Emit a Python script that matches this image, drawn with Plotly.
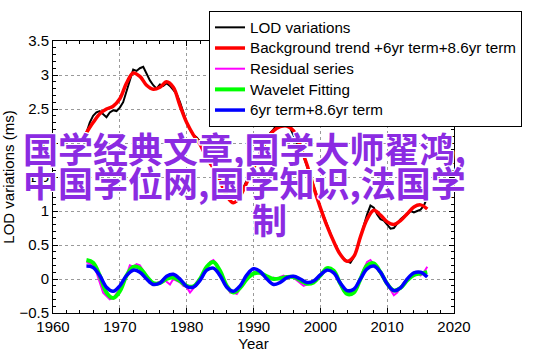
import plotly.graph_objects as go

# ---------------- data ----------------
lod_years = [1965.0 + 0.5 * i for i in range(103)]
lod_values = [
    2.15, 2.30, 2.40, 2.45, 2.47, 2.42, 2.38, 2.45, 2.48, 2.47,
    2.52, 2.60, 2.75, 2.90, 3.08, 3.06, 3.10, 3.12, 3.02, 2.92,
    2.85, 2.80, 2.86, 2.84, 2.88, 2.84, 2.78, 2.72, 2.60, 2.45,
    2.30, 2.20, 2.12, 2.08, 2.02, 1.92, 1.80, 1.72, 1.66, 1.55,
    1.45, 1.35, 1.25, 1.15, 1.12, 1.14, 1.25, 1.35, 1.45, 1.55,
    1.68, 1.75, 1.88, 1.98, 2.08, 2.15, 2.20, 2.28, 2.30, 2.27,
    2.28, 2.22, 2.10, 2.00, 1.90, 1.80, 1.66, 1.52, 1.38, 1.22,
    1.05, 0.92, 0.78, 0.66, 0.55, 0.45, 0.36, 0.30, 0.26, 0.24,
    0.32, 0.45, 0.62, 0.78, 0.95, 1.08, 1.05, 0.95, 0.88, 0.86,
    0.80, 0.74, 0.75, 0.82, 0.88, 0.92, 0.95, 1.00, 0.98, 1.00,
    1.02, 1.08, 1.20,
]

trend_years = list(range(1965, 2017))
trend_values = [
    2.15, 2.30, 2.43, 2.50, 2.54, 2.65, 2.88, 3.03, 2.98, 2.85,
    2.79, 2.82, 2.90, 2.82, 2.55, 2.30, 2.12, 1.98, 1.78, 1.63,
    1.44, 1.22, 1.12, 1.22, 1.42, 1.63, 1.85, 2.05, 2.18, 2.24,
    2.25, 2.18, 1.95, 1.68, 1.35, 1.05, 0.78, 0.55, 0.36, 0.26,
    0.33, 0.62, 0.88, 1.01, 0.94, 0.84, 0.80, 0.86, 0.96, 1.06,
    1.09, 1.03,
]

resid_years = [1965.0 + 0.5 * i for i in range(103)]
resid_values = [
    0.25, 0.22, 0.20, 0.10, -0.05, -0.20, -0.25, -0.30, -0.28, -0.22,
    -0.15, -0.05, 0.05, 0.20, 0.18, 0.22, 0.20, 0.12, 0.05, -0.02,
    -0.08, -0.06, -0.04, 0.00, -0.04, -0.08, 0.00, -0.02, -0.05, -0.10,
    -0.12, -0.20, -0.14, -0.05, 0.00, 0.06, 0.15, 0.25, 0.28, 0.22,
    0.12, 0.00, -0.10, -0.20, -0.20, -0.22, -0.14, -0.05, 0.02, 0.08,
    0.07, 0.10, 0.08, 0.05, 0.02, 0.00, 0.02, 0.00, 0.03, 0.05,
    0.02, 0.04, 0.02, -0.02, -0.05, -0.10, -0.08, -0.06, -0.03, 0.02,
    0.06, 0.12, 0.15, 0.16, 0.10, 0.00, -0.10, -0.18, -0.22, -0.20,
    -0.18, -0.08, 0.02, 0.15, 0.25, 0.28, 0.22, 0.15, 0.08, 0.00,
    -0.08, -0.18, -0.24, -0.20, -0.12, -0.05, 0.00, 0.05, 0.04, 0.08,
    0.05, 0.10, 0.18,
]

wave_years = list(range(1965, 2017))
wave_values = [
    0.28, 0.24, 0.05, -0.20, -0.28, -0.18, 0.05, 0.18, 0.16, 0.04,
    -0.06, -0.06, 0.00, 0.02, -0.03, -0.10, -0.11, 0.00, 0.18, 0.25,
    0.12, -0.10, -0.20, -0.13, 0.00, 0.08, 0.09, 0.04, 0.00, 0.01,
    0.03, 0.03, -0.02, -0.07, -0.05, 0.05, 0.16, 0.12, -0.07, -0.22,
    -0.20, 0.00, 0.20, 0.23, 0.10, -0.07, -0.17, -0.13, -0.02, 0.06,
    0.08, 0.10,
]

terms_years = list(range(1965, 2017))
terms_values = [
    0.19, 0.17, 0.05, -0.12, -0.18, -0.10, 0.05, 0.13, 0.10, 0.00,
    -0.08, -0.06, 0.04, 0.07, 0.00, -0.11, -0.12, -0.02, 0.13, 0.16,
    0.05, -0.12, -0.18, -0.10, 0.06, 0.15, 0.11, 0.00, -0.08, -0.05,
    0.02, 0.04, 0.00, -0.05, -0.03, 0.06, 0.13, 0.09, -0.06, -0.17,
    -0.15, 0.00, 0.15, 0.19, 0.10, -0.07, -0.17, -0.13, 0.00, 0.09,
    0.10, 0.03,
]

legend_names = [
    "LOD variations",
    "Background trend +6yr term+8.6yr term",
    "Residual series",
    "Wavelet Fitting",
    "6yr term+8.6yr term",
]

overlay_lines = ["国学经典文章,国学大师翟鸿,", "中国学位网,国学知识,法国学", "制"]

# ---------------- figure ----------------
W, H = 542, 356
L, R, T, B = 53, 454, 41, 313
FONT = "Liberation Sans, Arial, Helvetica, sans-serif"


def px(x):
    return (x - L) / (R - L)


def py(y):
    return (B - y) / (B - T)


def legend_label(s):
    return '<span style="font-size:15.2px">' + s + "</span>"


fig = go.Figure()
fig.add_trace(go.Scatter(x=lod_years, y=lod_values, mode="lines", name=legend_label(legend_names[0]),
                         line=dict(color="black", width=2)))
fig.add_trace(go.Scatter(x=trend_years, y=trend_values, mode="lines", name=legend_label(legend_names[1]),
                         line=dict(color="#ff0000", width=3.5, shape="spline", smoothing=1)))
fig.add_trace(go.Scatter(x=resid_years, y=resid_values, mode="lines", name=legend_label(legend_names[2]),
                         line=dict(color="#ff00ff", width=2)))
fig.add_trace(go.Scatter(x=wave_years, y=wave_values, mode="lines", name=legend_label(legend_names[3]),
                         line=dict(color="#00ff00", width=4, shape="spline", smoothing=1)))
fig.add_trace(go.Scatter(x=terms_years, y=terms_values, mode="lines", name=legend_label(legend_names[4]),
                         line=dict(color="#0000ff", width=3.5, shape="spline", smoothing=1)))

axis_common = dict(
    showline=True, linecolor="black", linewidth=1, mirror="ticks",
    ticks="inside", ticklen=5, tickcolor="black",
    showgrid=True, gridcolor="#9a9a9a", griddash="dot", gridwidth=1,
    zeroline=False, tickfont=dict(family=FONT, size=15, color="black"),
    automargin=False,
)

fig.update_xaxes(range=[1960, 2020], dtick=10, tick0=1960,
                 minor=dict(ticks="inside", ticklen=3, dtick=2, tickcolor="black", showgrid=False),
                 title=dict(text="Year", font=dict(family=FONT, size=15, color="black"), standoff=0),
                 **axis_common)
fig.update_yaxes(range=[-0.5, 3.5], dtick=0.5, tick0=0,
                 minor=dict(ticks="inside", ticklen=3, dtick=0.1, tickcolor="black", showgrid=False),
                 title=dict(text="LOD variations (ms)", font=dict(family=FONT, size=15, color="black"),
                            standoff=4),
                 **axis_common)

shadow = ("-1px -1px 0 #fff, 1px -1px 0 #fff, -1px 1px 0 #fff, 1px 1px 0 #fff, "
          "0 -1px 0 #fff, 0 1px 0 #fff, -1px 0 0 #fff, 1px 0 0 #fff")
cjk_font = dict(family="Noto Sans CJK SC", size=35, color="#8b2be2", weight="bold", shadow=shadow)

fig.add_annotation(xref="paper", yref="paper", x=px(22), y=py(147), xanchor="left", yanchor="middle",
                   text=overlay_lines[0], showarrow=False, font=cjk_font, borderpad=0)
fig.add_annotation(xref="paper", yref="paper", x=px(22), y=py(182), xanchor="left", yanchor="middle",
                   text=overlay_lines[1], showarrow=False, font=cjk_font, borderpad=0)
fig.add_annotation(xref="paper", yref="paper", x=px(269), y=py(218), xanchor="center", yanchor="middle",
                   text=overlay_lines[2], showarrow=False, font=cjk_font, borderpad=0)

fig.update_layout(
    width=W, height=H,
    margin=dict(l=L, r=W - R, t=T, b=H - B, autoexpand=False),
    paper_bgcolor="white", plot_bgcolor="white",
    showlegend=True,
    legend=dict(x=px(209), y=py(11), xanchor="left", yanchor="top",
                bgcolor="white", bordercolor="black", borderwidth=1,
                font=dict(family=FONT, size=13.6, color="black"),
                tracegroupgap=0, itemwidth=30),
)

fig.write_html("out.html", config={"displayModeBar": False},
               post_script="document.body.style.margin='0';document.body.style.overflow='hidden';")
